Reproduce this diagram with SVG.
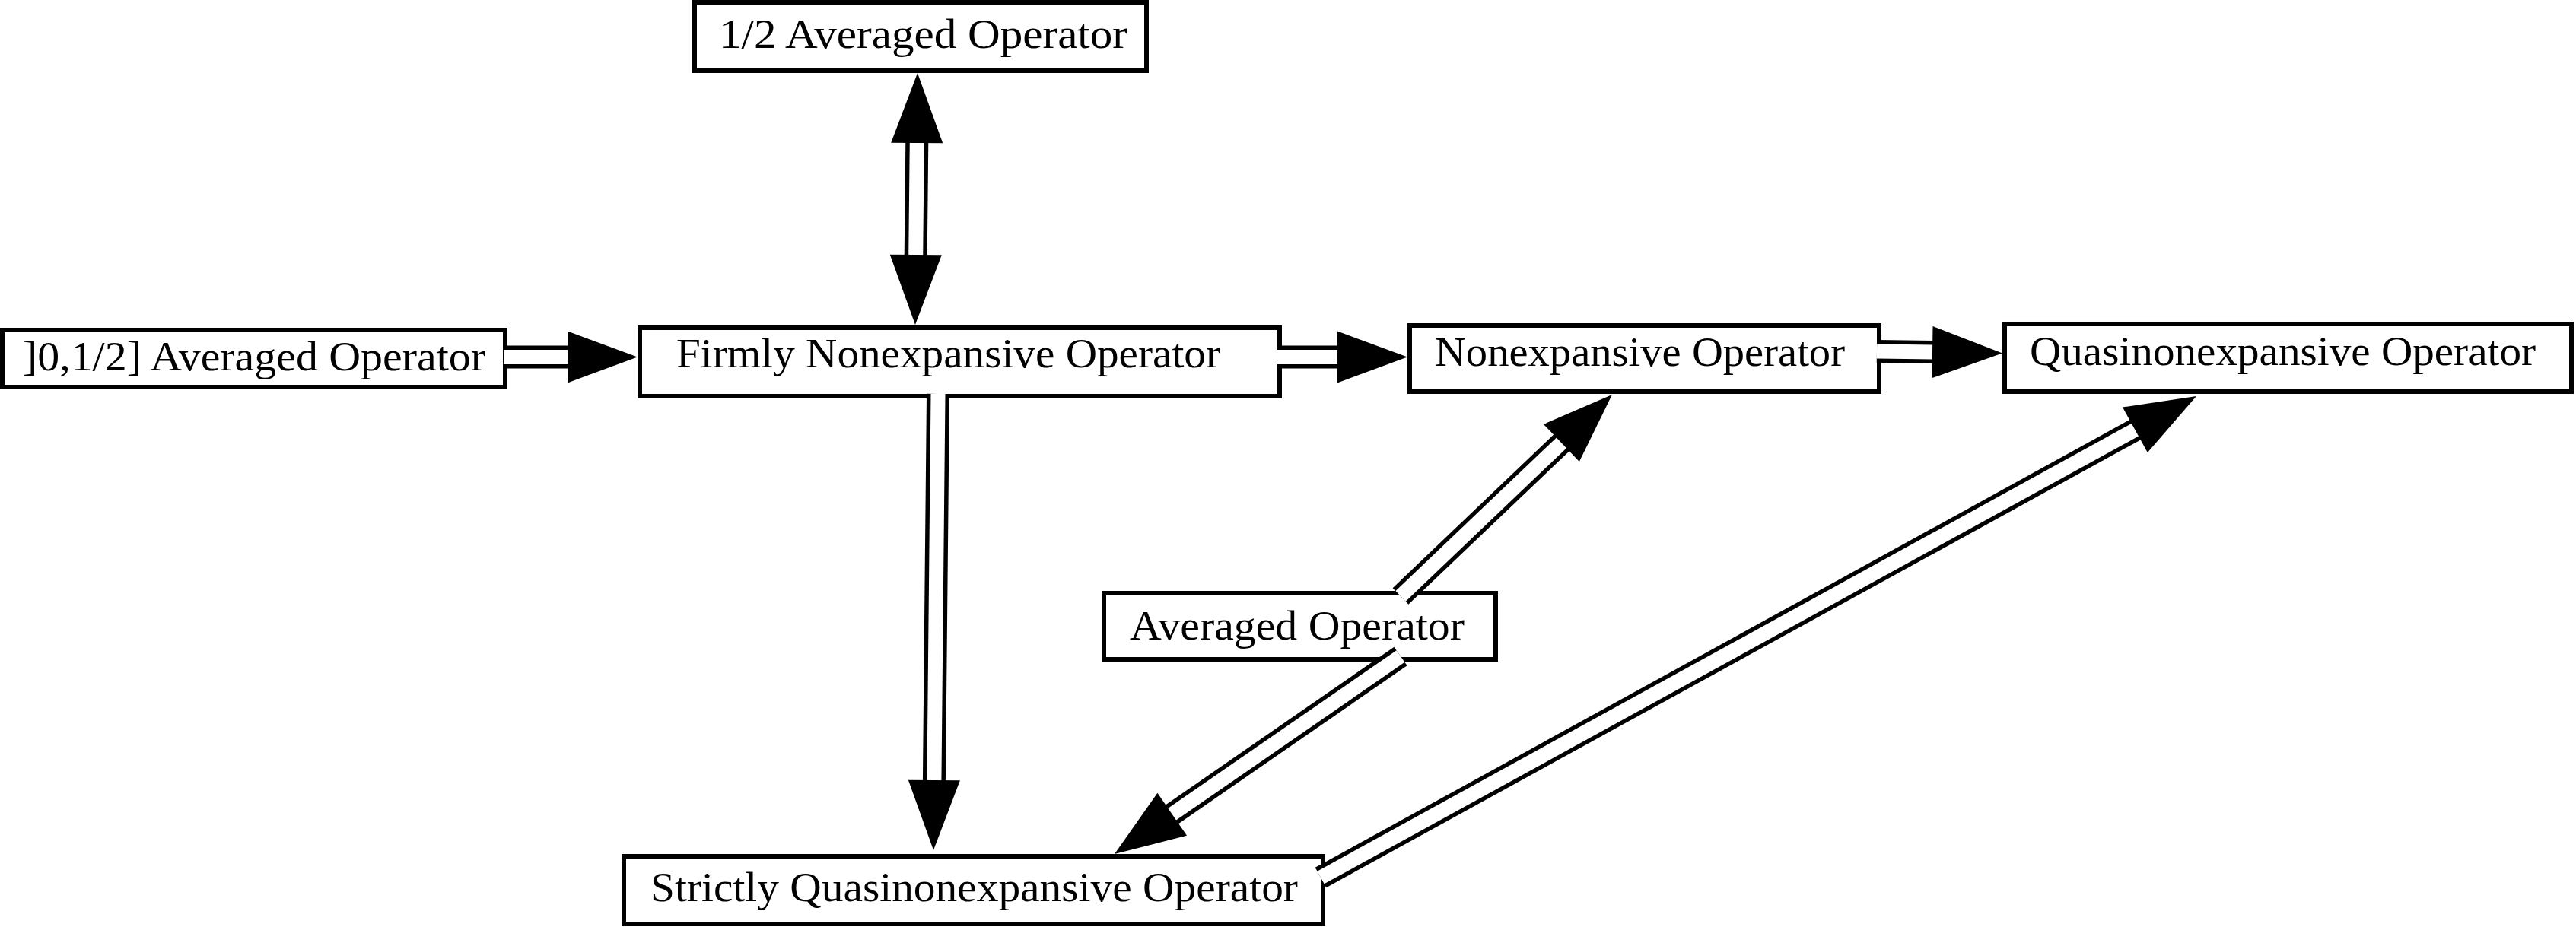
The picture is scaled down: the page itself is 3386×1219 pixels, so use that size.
<svg xmlns="http://www.w3.org/2000/svg" width="3386" height="1219" viewBox="0 0 3386 1219">
<style>
.box{fill:#fff;stroke:#000;stroke-width:6}
.lbl{font-family:"Liberation Serif","DejaVu Serif",serif;font-size:54px;fill:#000}
.outer{fill:none;stroke:#000;stroke-width:30;stroke-linecap:butt}
.inner{fill:none;stroke:#fff;stroke-width:19;stroke-linecap:butt}
.head{fill:#000;stroke:none}
</style>
<rect x="0" y="0" width="3386" height="1219" fill="#fff"/>
<g id="nodes">
<g id="half">
<rect class="box" x="913" y="3" width="594" height="90"/>
<text class="lbl" x="945" y="63" textLength="537" lengthAdjust="spacingAndGlyphs">1/2 Averaged Operator</text>
</g>
<g id="lhalf">
<rect class="box" x="3" y="434" width="661" height="75"/>
<text class="lbl" x="30" y="487" textLength="608" lengthAdjust="spacingAndGlyphs">]0,1/2] Averaged Operator</text>
</g>
<g id="firm">
<rect class="box" x="841" y="431" width="841" height="90"/>
<text class="lbl" x="889" y="483" textLength="715" lengthAdjust="spacingAndGlyphs">Firmly Nonexpansive Operator</text>
</g>
<g id="nonexp">
<rect class="box" x="1853" y="428" width="617" height="87"/>
<text class="lbl" x="1886" y="481" textLength="539" lengthAdjust="spacingAndGlyphs">Nonexpansive Operator</text>
</g>
<g id="quasi">
<rect class="box" x="2635" y="426" width="745" height="89"/>
<text class="lbl" x="2668" y="480" textLength="665" lengthAdjust="spacingAndGlyphs">Quasinonexpansive Operator</text>
</g>
<g id="avg">
<rect class="box" x="1451" y="780" width="515" height="87"/>
<text class="lbl" x="1485" y="841" textLength="440" lengthAdjust="spacingAndGlyphs">Averaged Operator</text>
</g>
<g id="strict">
<rect class="box" x="820" y="1126" width="919" height="89"/>
<text class="lbl" x="855" y="1185" textLength="851" lengthAdjust="spacingAndGlyphs">Strictly Quasinonexpansive Operator</text>
</g>
</g>
<g id="connectors">
<g id="e-half-firm">
<path class="outer" d="M1205.3,186 L1203.7,337"/>
<path class="inner" d="M1205.3,186 L1203.7,337"/>
<polygon class="head" points="1206,96 1171.2,187.7 1239.2,188.3"/>
<polygon class="head" points="1203,427 1169.8,334.7 1237.8,335.3"/>
</g>
<g id="e-lhalf-firm">
<path class="outer" d="M662,469.5 L748,469.5"/>
<path class="inner" d="M662,469.5 L748,469.5"/>
<polygon class="head" points="838,469.5 746,435.5 746,503.5"/>
</g>
<g id="e-firm-nonexp">
<path class="outer" d="M1679,469.5 L1760,469.5"/>
<path class="inner" d="M1679,469.5 L1760,469.5"/>
<polygon class="head" points="1850,469.5 1758,435.5 1758,503.5"/>
</g>
<g id="e-nonexp-quasi">
<path class="outer" d="M2467,462 L2542,463.1"/>
<path class="inner" d="M2467,462 L2542,463.1"/>
<polygon class="head" points="2632,464.5 2540.5,429.1 2539.5,497.1"/>
</g>
<g id="e-firm-strict">
<path class="outer" d="M1233,518 L1227.9,1028"/>
<path class="inner" d="M1233,518 L1227.9,1028"/>
<polygon class="head" points="1227,1118 1193.9,1025.7 1261.9,1026.3"/>
</g>
<g id="e-avg-nonexp">
<path class="outer" d="M1841,784 L2053.8,581.1"/>
<path class="inner" d="M1841,784 L2053.8,581.1"/>
<polygon class="head" points="2119,519 2029,557.9 2075.9,607.1"/>
</g>
<g id="e-avg-strict">
<path class="outer" d="M1841,863 L1539.1,1071.8"/>
<path class="inner" d="M1841,863 L1539.1,1071.8"/>
<polygon class="head" points="1465,1123 1521.4,1042.7 1560,1098.7"/>
</g>
<g id="e-strict-quasi">
<path class="outer" d="M1736,1154 L2808.1,564.3"/>
<path class="inner" d="M1736,1154 L2808.1,564.3"/>
<polygon class="head" points="2887,521 2790,535.5 2822.8,595.1"/>
</g>
</g>
</svg>
